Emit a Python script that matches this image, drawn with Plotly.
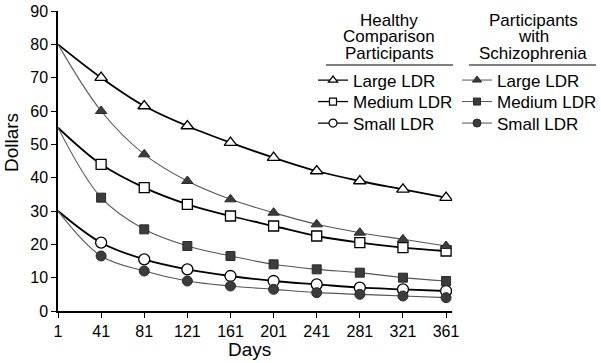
import plotly.graph_objects as go

# ---- data ----
days_all = [1, 41, 81, 121, 161, 201, 241, 281, 321, 361]
x_ticks = [1, 41, 81, 121, 161, 201, 241, 281, 321, 361]

healthy_large = [80, 70, 61.5, 55.5, 50.5, 46, 42, 39, 36.5, 34]
healthy_medium = [55, 44, 37, 32, 28.5, 25.5, 22.5, 20.5, 19, 18]
healthy_small = [30, 20.5, 15.5, 12.5, 10.5, 9, 8, 7, 6.5, 6]

schizo_large = [80, 60, 47, 39, 33.5, 29.5, 26, 23.5, 21.5, 19.5]
schizo_medium = [55, 34, 24.5, 19.5, 16.5, 14, 12.5, 11.5, 10, 9]
schizo_small = [30, 16.5, 12, 9, 7.5, 6.5, 5.5, 5, 4.5, 4]

labels = ["Large LDR", "Medium LDR", "Small LDR"]
healthy_header = ["Healthy", "Comparison", "Participants"]
schizo_header = ["Participants", "with", "Schizophrenia"]

FONT = "Liberation Sans, Arial, sans-serif"

# plot-area pixel geometry
W, H = 601, 363
L, R, T, B = 58, 452, 11, 311

def px(xp):
    return (xp - L) / (R - L)

def py(yp):
    return (B - yp) / (B - T)

fig = go.Figure()

healthy = [healthy_large, healthy_medium, healthy_small]
schizo = [schizo_large, schizo_medium, schizo_small]
symbols = ["triangle-up", "square", "circle"]
sizes = [11, 10, 11]
fsizes = [10, 9, 10]
leg_sizes = [8, 7, 8]

HEALTHY_LINE = "black"
SCHIZO_LINE = "#555555"
SCHIZO_FILL = "#3c3c3c"

# curves
for vals in healthy:
    fig.add_trace(go.Scatter(x=days_all, y=vals, mode="lines",
                             line=dict(color=HEALTHY_LINE, width=1.8, shape="spline", smoothing=1.0),
                             showlegend=False, hoverinfo="skip"))
for vals in schizo:
    fig.add_trace(go.Scatter(x=days_all, y=vals, mode="lines",
                             line=dict(color=SCHIZO_LINE, width=1.1, shape="spline", smoothing=1.0),
                             showlegend=False, hoverinfo="skip"))

# markers
for vals, sym, sz, lab in zip(healthy, symbols, sizes, labels):
    fig.add_trace(go.Scatter(x=days_all[1:], y=vals[1:], mode="markers", name=lab,
                             marker=dict(symbol=sym, size=sz, color="white",
                                         line=dict(color="black", width=1.3)),
                             showlegend=False))
for vals, sym, sz, lab in zip(schizo, symbols, fsizes, labels):
    fig.add_trace(go.Scatter(x=days_all[1:], y=vals[1:], mode="markers", name=lab,
                             marker=dict(symbol=sym, size=sz, color=SCHIZO_FILL,
                                         line=dict(color="#2a2a2a", width=1)),
                             showlegend=False))

# legend-only entries (one legend per row for exact row spacing)
row_tops = [62.5, 84, 105.5]
legend_layouts = {}
k = 1
for group, fill, lcol, lw, lx in [("h", "white", HEALTHY_LINE, 1.3, 313), ("s", SCHIZO_FILL, SCHIZO_LINE, 1.0, 457)]:
    for sym, ls, lab, top in zip(symbols, leg_sizes, labels, row_tops):
        lname = "legend" if k == 1 else f"legend{k}"
        fig.add_trace(go.Scatter(x=[None], y=[None], mode="lines+markers", name=lab,
                                 line=dict(color=lcol, width=lw),
                                 marker=dict(symbol=sym, size=ls, color=fill,
                                             line=dict(color="black" if group == "h" else "#2a2a2a",
                                                       width=1.2 if group == "h" else 1)),
                                 legend=lname, hoverinfo="skip"))
        legend_layouts[lname] = dict(x=px(lx), y=py(top), xanchor="left", yanchor="top",
                                     font=dict(family=FONT, size=17), bgcolor="rgba(0,0,0,0)",
                                     itemwidth=30, borderwidth=0)
        k += 1

annotations = []
for i, t in enumerate(healthy_header):
    annotations.append(dict(x=px(389), y=py(20 + i * 16.5), xref="paper", yref="paper",
                            text=t, showarrow=False, xanchor="center", yanchor="middle",
                            font=dict(family=FONT, size=17, color="black")))
for i, t in enumerate(schizo_header):
    annotations.append(dict(x=px(533), y=py(20 + i * 16.5), xref="paper", yref="paper",
                            text=t, showarrow=False, xanchor="center", yanchor="middle",
                            font=dict(family=FONT, size=17, color="black")))
annotations.append(dict(x=px(12), y=py(143), xref="paper", yref="paper", text="Dollars",
                        textangle=-90, showarrow=False, xanchor="center", yanchor="middle",
                        font=dict(family=FONT, size=19, color="black")))
annotations.append(dict(x=px(249), y=py(349), xref="paper", yref="paper", text="Days",
                        showarrow=False, xanchor="center", yanchor="middle",
                        font=dict(family=FONT, size=19, color="black")))

shapes = [
    dict(type="line", xref="paper", yref="paper", x0=px(326), x1=px(453), y0=py(65), y1=py(65),
         line=dict(color="black", width=1)),
    dict(type="line", xref="paper", yref="paper", x0=px(469), x1=px(596), y0=py(65), y1=py(65),
         line=dict(color="black", width=1)),
]

fig.update_layout(
    width=W, height=H,
    margin=dict(l=L, r=W - R, t=T, b=H - B, autoexpand=False),
    paper_bgcolor="white", plot_bgcolor="white",
    font=dict(family=FONT, size=16, color="black"),
    annotations=annotations, shapes=shapes,
    **legend_layouts,
)

fig.update_xaxes(range=[1, 366.5], tickvals=x_ticks, ticktext=[str(v) for v in x_ticks],
                 showline=True, linecolor="black", linewidth=1.5, ticks="outside",
                 ticklen=5, tickcolor="black", tickwidth=1.2, showgrid=False, zeroline=False,
                 tickfont=dict(size=16))
fig.update_yaxes(range=[0, 90], dtick=10, showline=True, linecolor="black", linewidth=1.5,
                 ticks="outside", ticklen=5, tickcolor="black", tickwidth=1.2,
                 showgrid=False, zeroline=False, tickfont=dict(size=16))

fig.write_html("out.html", config={"displayModeBar": False},
               post_script="document.body.style.margin='0';")
